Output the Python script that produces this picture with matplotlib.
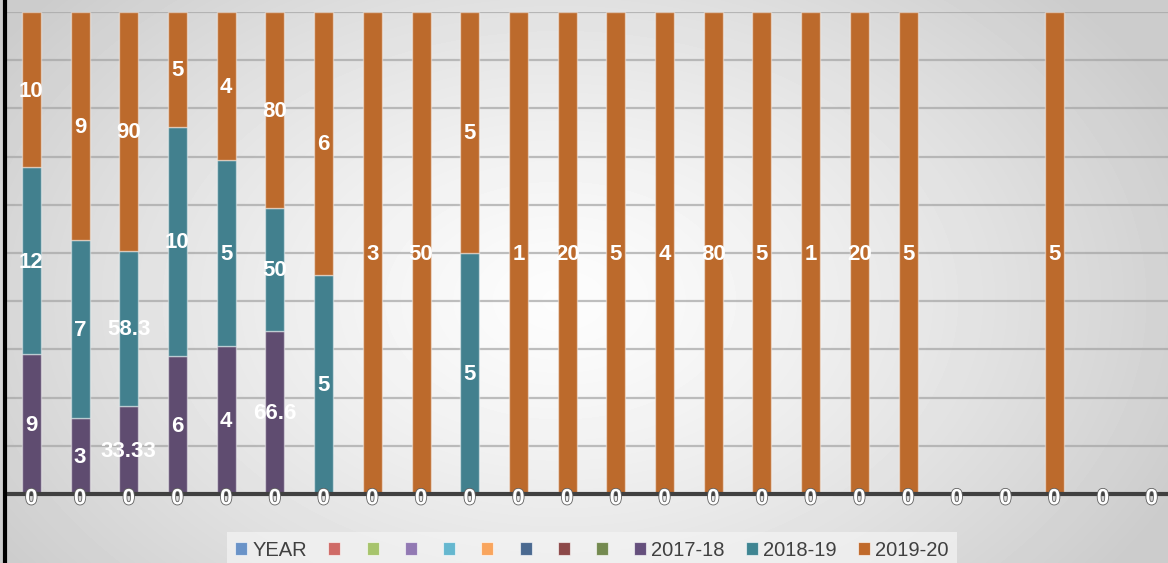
import numpy as np
import matplotlib.pyplot as plt
from matplotlib.lines import Line2D
import matplotlib.patheffects as pe

plt.rcParams['font.family'] = ['Liberation Sans', 'DejaVu Sans']

# data (24 categories, 100% stacked)
n_cats = 24
s2017 = [9, 3, 33.33, 6, 4, 66.6, 0, 0, 0, 0, 0, 0, 0, 0, 0, 0, 0, 0, 0, 0, 0, 0, 0, 0]
s2018 = [12, 7, 58.3, 10, 5, 50, 5, 0, 0, 5, 0, 0, 0, 0, 0, 0, 0, 0, 0, 0, 0, 0, 0, 0]
s2019 = [10, 9, 90, 5, 4, 80, 6, 3, 50, 5, 1, 20, 5, 4, 80, 5, 1, 20, 5, 0, 0, 5, 0, 0]
year_vals = [0] * n_cats

series_names = ['YEAR', '', '', '', '', '', '', '', '', '2017-18', '2018-19', '2019-20']
legend_colors = ['#6a93c8', '#cf6a66', '#a7c46c', '#9279b3', '#65b7cf', '#f9a55d',
                 '#4a6990', '#8c4848', '#748a50', '#654f7c', '#3f8592', '#c0692a']
seg_colors = ['#5f4c70', '#42808e', '#bc6a2c']

W, H = 1168, 563
fig = plt.figure(figsize=(W / 100, H / 100), dpi=100)

# radial gradient background
bg = fig.add_axes([0, 0, 1, 1], zorder=-10)
yy, xx = np.mgrid[0:H, 0:W]
r = np.sqrt(((xx - 560) / 620.0) ** 2 + ((yy - 300) / 420.0) ** 2)
shade = np.clip(0.99 - 0.17 * r ** 1.3, 0.80, 1.0)
bg.imshow(shade, cmap='gray', vmin=0, vmax=1, aspect='auto', extent=[0, W, H, 0])
bg.set_xlim(0, W)
bg.set_ylim(H, 0)
bg.axis('off')

ax = fig.add_axes([7 / W, (H - 494) / H, 1169 / W, 482 / H])
ax.set_facecolor('none')

x = np.arange(n_cats)
data = np.array([s2017, s2018, s2019], dtype=float)
totals = data.sum(axis=0)
pct = np.divide(data, totals, out=np.zeros_like(data), where=totals > 0) * 100

bottom = np.zeros(n_cats)
for vals, p, col in zip(data, pct, seg_colors):
    ax.bar(x, p, width=0.39, bottom=bottom, color=col, edgecolor=(1, 1, 1, 0.45),
           linewidth=1, zorder=3)
    for i in range(n_cats):
        if vals[i] > 0:
            ax.text(x[i], bottom[i] + p[i] / 2 - 0.3, f'{vals[i]:g}', ha='center', va='center',
                    color='white', fontsize=16, fontweight='bold', zorder=5)
    bottom += p

# zero-valued YEAR series labels at the baseline
for i, v in enumerate(year_vals):
    ax.text(x[i], v - 1.0, f'{v:g}', ha='center', va='center', color='white',
            fontsize=16, fontweight='bold', zorder=6,
            path_effects=[pe.withStroke(linewidth=1.2, foreground='#606060')])

ax.set_xlim(-0.5, n_cats - 0.5)
ax.set_ylim(0, 100)
ax.set_yticks(np.arange(0, 101, 10))
ax.yaxis.grid(True, color='#a4a4a4', linewidth=1.6, alpha=0.7, zorder=1)
ax.set_axisbelow(True)
ax.tick_params(left=False, bottom=False, labelleft=False, labelbottom=False)
for s in ['top', 'right', 'left']:
    ax.spines[s].set_visible(False)
ax.spines['bottom'].set_color('#404040')
ax.spines['bottom'].set_linewidth(3)
ax.spines['bottom'].set_zorder(4)

# left black border
fig.add_artist(Line2D([4.5 / W, 4.5 / W], [0, 1], color='black', linewidth=3))

# legend
handles = [plt.Rectangle((0, 0), 1, 1, facecolor=c, edgecolor=(1, 1, 1, 0.6), linewidth=0.8)
           for c in legend_colors]
leg = fig.legend(handles, series_names, loc='center', bbox_to_anchor=(592 / W, (H - 550) / H),
                 ncol=12, frameon=True, fontsize=14.5, handlelength=0.6, handleheight=0.6,
                 handletextpad=0.25, columnspacing=1.05, borderpad=0.4)
leg.get_frame().set_facecolor('#f4f4f4')
leg.get_frame().set_alpha(0.7)
leg.get_frame().set_edgecolor('none')
leg.get_frame().set_boxstyle('square', pad=0)
for t in leg.get_texts():
    t.set_color('#404040')

fig.savefig('out.png', dpi=100)
